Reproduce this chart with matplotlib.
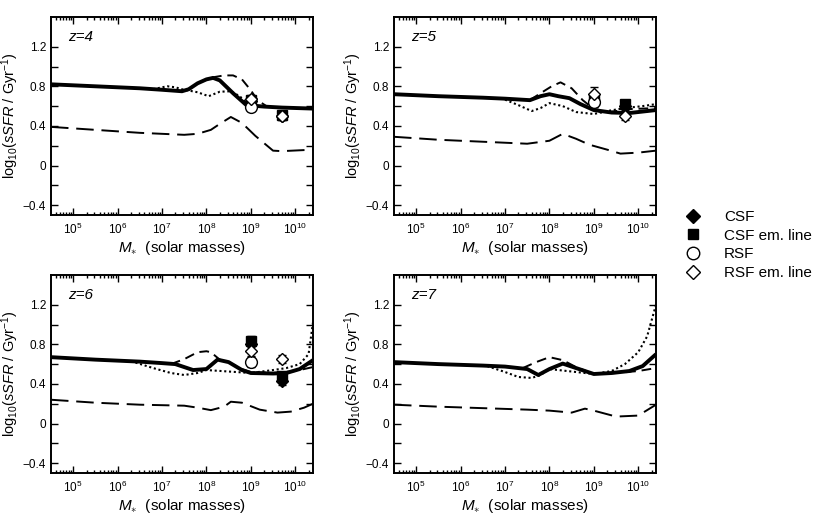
import matplotlib
matplotlib.use("Agg")
import matplotlib.pyplot as plt
import numpy as np
from matplotlib.lines import Line2D
from matplotlib.ticker import FixedLocator, FuncFormatter, LogLocator, LogFormatterSciNotation

plt.rcParams['font.family'] = ['Liberation Sans', 'DejaVu Sans']
plt.rcParams['mathtext.fontset'] = 'custom'
plt.rcParams['mathtext.rm'] = 'Liberation Sans'
plt.rcParams['mathtext.it'] = 'Liberation Sans:italic'
plt.rcParams['mathtext.bf'] = 'Liberation Sans:bold'

redshifts = ["z=4", "z=5", "z=6", "z=7"]

# model curves: log10(M*) and log10(sSFR)
solid_m = [
    [4.5, 5.5, 6.5, 7.0, 7.45, 7.6, 7.8, 8.0, 8.15, 8.3, 8.6, 8.9, 9.3, 9.7, 10.4],
    [4.5, 5.5, 6.5, 7.0, 7.56, 7.8, 8.0, 8.2, 8.45, 8.7, 9.0, 9.4, 9.8, 10.1, 10.4],
    [4.5, 5.5, 6.5, 7.0, 7.3, 7.7, 8.0, 8.25, 8.5, 8.8, 9.0, 9.5, 9.8, 10.1, 10.4],
    [4.5, 5.5, 6.5, 7.0, 7.5, 7.75, 8.0, 8.3, 8.6, 9.0, 9.4, 9.8, 10.1, 10.4],
]
solid_v = [
    [0.82, 0.80, 0.78, 0.765, 0.75, 0.77, 0.83, 0.87, 0.885, 0.86, 0.73, 0.61, 0.595, 0.585, 0.575],
    [0.72, 0.70, 0.685, 0.675, 0.66, 0.70, 0.72, 0.70, 0.68, 0.62, 0.56, 0.535, 0.53, 0.545, 0.56],
    [0.67, 0.645, 0.625, 0.61, 0.60, 0.54, 0.55, 0.645, 0.62, 0.54, 0.51, 0.505, 0.51, 0.55, 0.64],
    [0.62, 0.60, 0.585, 0.575, 0.55, 0.49, 0.55, 0.605, 0.56, 0.50, 0.51, 0.53, 0.58, 0.70],
]
dash_m = [
    [7.8, 8.0, 8.2, 8.4, 8.6, 8.8, 9.0, 9.15, 9.35, 9.7, 10.4],
    [7.56, 7.8, 8.05, 8.25, 8.5, 8.75, 9.0, 9.2, 9.5, 9.8, 10.4],
    [7.2, 7.5, 7.8, 8.0, 8.1, 8.3, 8.5, 8.8, 9.0, 9.5, 10.0, 10.4],
    [7.4, 7.7, 8.0, 8.3, 8.6, 9.0, 9.5, 10.0, 10.4],
]
dash_v = [
    [0.83, 0.87, 0.895, 0.91, 0.91, 0.87, 0.76, 0.66, 0.60, 0.585, 0.575],
    [0.66, 0.73, 0.80, 0.84, 0.78, 0.66, 0.57, 0.53, 0.55, 0.57, 0.58],
    [0.60, 0.65, 0.72, 0.73, 0.72, 0.645, 0.62, 0.55, 0.52, 0.51, 0.53, 0.57],
    [0.56, 0.62, 0.67, 0.64, 0.57, 0.50, 0.51, 0.53, 0.56],
]
dot_m = [
    [6.8, 7.0, 7.12, 7.3, 7.45, 7.8, 8.05, 8.3, 8.55, 8.75, 8.95],
    [7.0, 7.3, 7.6, 7.8, 8.0, 8.3, 8.6, 9.0, 9.3, 9.7, 10.1, 10.4],
    [6.3, 6.8, 7.2, 7.5, 7.8, 8.0, 9.0, 9.5, 9.8, 10.1, 10.3, 10.4],
    [6.6, 7.0, 7.3, 7.6, 7.8, 8.0, 9.0, 9.4, 9.7, 10.0, 10.2, 10.4],
]
dot_v = [
    [0.77, 0.79, 0.80, 0.79, 0.77, 0.74, 0.70, 0.745, 0.75, 0.70, 0.61],
    [0.665, 0.61, 0.55, 0.58, 0.63, 0.60, 0.54, 0.52, 0.55, 0.58, 0.60, 0.62],
    [0.63, 0.56, 0.51, 0.49, 0.51, 0.54, 0.51, 0.54, 0.56, 0.60, 0.70, 1.02],
    [0.58, 0.52, 0.47, 0.46, 0.49, 0.55, 0.50, 0.53, 0.60, 0.72, 0.88, 1.20],
]
ldash_m = [
    [4.5, 5.5, 6.5, 7.0, 7.5, 7.8, 8.1, 8.3, 8.55, 8.8, 9.1, 9.5, 9.7, 10.4],
    [4.5, 5.5, 6.5, 7.5, 8.0, 8.3, 8.6, 8.9, 9.3, 9.6, 10.0, 10.4],
    [4.5, 5.5, 6.5, 7.5, 7.8, 8.1, 8.4, 8.55, 8.8, 9.2, 9.6, 9.9, 10.2, 10.4],
    [4.5, 5.5, 6.5, 7.5, 8.0, 8.5, 8.8, 9.0, 9.5, 10.0, 10.4],
]
ldash_v = [
    [0.39, 0.36, 0.33, 0.32, 0.31, 0.32, 0.36, 0.42, 0.49, 0.43, 0.30, 0.15, 0.145, 0.16],
    [0.29, 0.26, 0.24, 0.22, 0.25, 0.32, 0.27, 0.21, 0.16, 0.12, 0.13, 0.15],
    [0.24, 0.21, 0.19, 0.18, 0.16, 0.135, 0.17, 0.22, 0.21, 0.14, 0.11, 0.12, 0.16, 0.20],
    [0.19, 0.17, 0.155, 0.14, 0.13, 0.11, 0.15, 0.13, 0.07, 0.08, 0.19],
]

# observed points (log10 M* = 9.0 and 9.7), nan = not shown
obs_m = [9.0, 9.7]
csf = [[0.65, 0.50], [0.64, 0.60], [0.80, 0.43], [np.nan, np.nan]]
csf_em = [[0.66, 0.51], [0.66, 0.62], [0.83, 0.48], [np.nan, np.nan]]
rsf = [[0.59, np.nan], [0.64, np.nan], [0.62, np.nan], [np.nan, np.nan]]
rsf_em = [[0.67, 0.50], [0.72, 0.50], [0.73, 0.65], [np.nan, np.nan]]
obs_err = [[0.04, 0.04], [0.07, 0.04], [0.05, 0.04], [0.0, 0.0]]

W, H = 817, 516
fig = plt.figure(figsize=(W / 100, H / 100), dpi=100)
boxes = [(51, 17), (394, 17), (51, 275), (394, 275)]
aw, ah = 262, 198

for i in range(4):
    x0, y0 = boxes[i]
    ax = fig.add_axes([x0 / W, 1 - (y0 + ah) / H, aw / W, ah / H])
    ax.set_xscale('log')

    ax.plot(10 ** np.array(ldash_m[i]), ldash_v[i], color='k', lw=1.4, dashes=(9, 4))
    ax.plot(10 ** np.array(dot_m[i]), dot_v[i], color='k', lw=1.5, dashes=(1, 1.3))
    ax.plot(10 ** np.array(dash_m[i]), dash_v[i], color='k', lw=1.4, dashes=(5, 3))
    ax.plot(10 ** np.array(solid_m[i]), solid_v[i], color='k', lw=2.8, solid_capstyle='butt')

    xm = 10 ** np.array(obs_m)
    for vals, mk, fc, ms in [(csf[i], 'D', 'k', 6.5), (csf_em[i], 's', 'k', 7),
                             (rsf[i], 'o', 'white', 8.5), (rsf_em[i], 'D', 'white', 6.5)]:
        ax.errorbar(xm, vals, yerr=obs_err[i], fmt=mk, mfc=fc, mec='k', mew=1.0, ms=ms,
                    ecolor='k', elinewidth=1.0, capsize=3, capthick=1.0, zorder=5)

    ax.set_xlim(10 ** 4.5, 10 ** 10.4)
    ax.set_ylim(-0.5, 1.5)
    yt = [-0.4, -0.2, 0, 0.2, 0.4, 0.6, 0.8, 1.0, 1.2]
    ax.yaxis.set_major_locator(FixedLocator(yt))
    labs = {-0.4: '\u22120.4', 0: '0', 0.4: '0.4', 0.8: '0.8', 1.2: '1.2'}
    ax.yaxis.set_major_formatter(FuncFormatter(lambda v, p: labs.get(round(v, 1), '')))
    ax.xaxis.set_major_locator(LogLocator(base=10, numticks=20))
    ax.xaxis.set_minor_locator(LogLocator(base=10, subs=np.arange(2, 10), numticks=20))
    ax.xaxis.set_major_formatter(LogFormatterSciNotation())
    ax.tick_params(which='both', direction='in', top=True, right=True, labelsize=8.5, width=1.0)
    ax.tick_params(which='major', length=5)
    ax.tick_params(which='minor', length=2.5)
    ax.tick_params(axis='x', pad=5)
    for s in ax.spines.values():
        s.set_linewidth(1.4)

    ax.set_xlabel(r'$M_{\ast}$  (solar masses)', fontsize=11, labelpad=1)
    ax.set_ylabel(r'log$_{10}$($sSFR$ / Gyr$^{-1}$)', fontsize=10.5, labelpad=1)
    ax.text(0.065, 0.9, redshifts[i], transform=ax.transAxes, fontsize=11,
            style='italic', ha='left', va='center')

handles = [
    Line2D([], [], ls='none', marker='D', mfc='k', mec='k', ms=7),
    Line2D([], [], ls='none', marker='s', mfc='k', mec='k', ms=7),
    Line2D([], [], ls='none', marker='o', mfc='white', mec='k', ms=9),
    Line2D([], [], ls='none', marker='D', mfc='white', mec='k', ms=7),
]
names = ["CSF", "CSF em. line", "RSF", "RSF em. line"]
fig.legend(handles, names, loc='center left', bbox_to_anchor=(685 / W, 1 - 245 / H),
           frameon=False, fontsize=11, handlelength=1.0, handletextpad=1.55,
           labelspacing=0.3, borderpad=0, borderaxespad=0)

fig.savefig("out.png", dpi=100)
